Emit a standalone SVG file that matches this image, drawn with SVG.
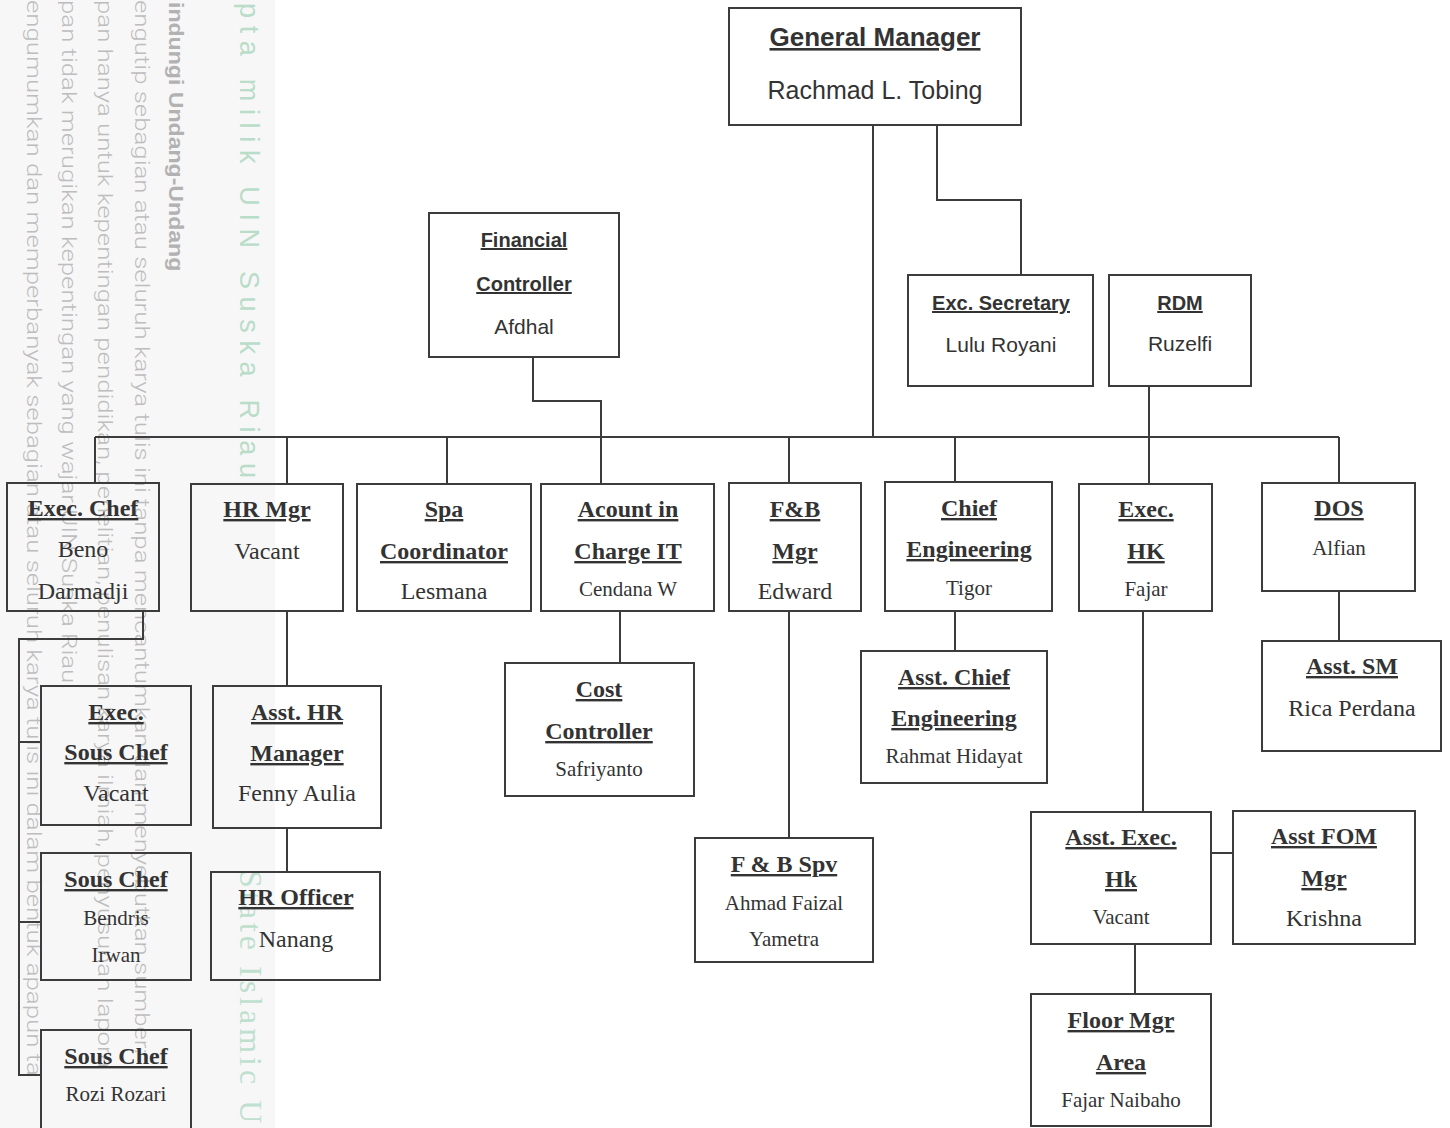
<svg xmlns="http://www.w3.org/2000/svg" width="1450" height="1128" viewBox="0 0 1450 1128">
<style>
.box{fill:none;stroke:#3c3c3c;stroke-width:2}
.ln{fill:none;stroke:#3c3c3c;stroke-width:2}
text{text-anchor:middle;fill:#333}
.st{font-family:"Liberation Serif",serif;font-weight:bold;font-size:24px;text-decoration:underline}
.sn{font-family:"Liberation Serif",serif;font-size:21px}
.sl{font-family:"Liberation Serif",serif;font-size:24px}
.ct{font-family:"Liberation Sans",sans-serif;font-weight:bold;font-size:20px;text-decoration:underline}
.cn{font-family:"Liberation Sans",sans-serif;font-size:21px}
.wm{font-family:"Roboto","Liberation Sans",sans-serif;font-weight:300;font-size:21px;fill:#bdbdbd;text-anchor:start}
.wmb{font-family:"Liberation Sans",sans-serif;font-weight:bold;fill:#b2b2b2}
.wg{font-family:"Liberation Sans",sans-serif;font-size:27px;fill:#b9ddc9;text-anchor:start}
.wgs{font-family:"Liberation Serif",serif;font-size:32px;fill:#bfe0ce;text-anchor:start;letter-spacing:4px}
</style>
<rect x="0" y="0" width="1450" height="1128" fill="#ffffff"/>
<g id="watermark">
<rect x="0" y="0" width="275" height="1128" fill="#f7f7f7"/>
<text class="wm wmb" transform="translate(169,2) rotate(90) scale(1.1,1)">indungi Undang-Undang</text>
<text class="wm" transform="translate(135,0) rotate(90) scale(1.23,1)">engutip sebagian atau seluruh karya tulis ini tanpa mencantumkan dan menyebutkan sumber:</text>
<text class="wm" transform="translate(98,0) rotate(90) scale(1.23,1)">pan hanya untuk kepentingan pendidikan, penelitian, penulisan karya ilmiah, penyusunan lapora</text>
<text class="wm" transform="translate(62,0) rotate(90) scale(1.23,1)">pan tidak merugikan kepentingan yang wajar UIN Suska Riau.</text>
<text class="wm" transform="translate(27,0) rotate(90) scale(1.23,1)">engumumkan dan memperbanyak sebagian atau seluruh karya tulis ini dalam bentuk apapun ta</text>
<text class="wg" transform="translate(240,3) rotate(90)" textLength="475" lengthAdjust="spacing">pta milik UIN Suska Riau</text>
<text class="wgs" transform="translate(240,870) rotate(90)">State Islamic Un</text>
</g>
<g id="connectors">
<path class="ln" d="M873,125 V437"/>
<path class="ln" d="M937,125 V200 H1021 V275"/>
<path class="ln" d="M533,357 V401 H601 V484"/>
<path class="ln" d="M95,437 H1339"/>
<path class="ln" d="M95,437 V483"/>
<path class="ln" d="M287,437 V484"/>
<path class="ln" d="M447,437 V484"/>
<path class="ln" d="M789,437 V483"/>
<path class="ln" d="M955,437 V482"/>
<path class="ln" d="M1149,386 V484"/>
<path class="ln" d="M1339,437 V483"/>
<path class="ln" d="M143,611 V639 H19 V1075 H41"/>
<path class="ln" d="M19,742 H41"/>
<path class="ln" d="M19,922 H41"/>
<path class="ln" d="M287,611 V686"/>
<path class="ln" d="M287,828 V872"/>
<path class="ln" d="M620,611 V663"/>
<path class="ln" d="M789,611 V838"/>
<path class="ln" d="M955,611 V651"/>
<path class="ln" d="M1143,611 V812"/>
<path class="ln" d="M1211,853 H1233"/>
<path class="ln" d="M1135,944 V994"/>
<path class="ln" d="M1339,591 V641"/>
</g>
<g id="gm">
<rect class="box" x="729" y="8" width="292" height="117"/>
<text x="875" y="46" style="font-family:'Liberation Sans',sans-serif;font-weight:bold;font-size:26px;text-decoration:underline">General Manager</text>
<text x="875" y="99" style="font-family:'Liberation Sans',sans-serif;font-size:25px">Rachmad L. Tobing</text>
</g>
<g id="financial-controller">
<rect class="box" x="429" y="213" width="190" height="144"/>
<text class="ct" x="524" y="247">Financial</text>
<text class="ct" x="524" y="291">Controller</text>
<text class="cn" x="524" y="334">Afdhal</text>
</g>
<g id="exc-secretary">
<rect class="box" x="908" y="275" width="185" height="111"/>
<text class="ct" x="1001" y="310">Exc. Secretary</text>
<text class="cn" x="1001" y="352">Lulu Royani</text>
</g>
<g id="rdm">
<rect class="box" x="1109" y="275" width="142" height="111"/>
<text class="ct" x="1180" y="310">RDM</text>
<text class="cn" x="1180" y="351">Ruzelfi</text>
</g>
<g id="exec-chef">
<rect class="box" x="7" y="483" width="152" height="128"/>
<text class="st" x="83" y="516">Exec. Chef</text>
<text class="sl" x="83" y="557">Beno</text>
<text class="sl" x="83" y="599">Darmadji</text>
</g>
<g id="hr-mgr">
<rect class="box" x="191" y="484" width="152" height="127"/>
<text class="st" x="267" y="517">HR Mgr</text>
<text class="sl" x="267" y="559">Vacant</text>
</g>
<g id="spa-coordinator">
<rect class="box" x="357" y="484" width="174" height="127"/>
<text class="st" x="444" y="517">Spa</text>
<text class="st" x="444" y="559">Coordinator</text>
<text class="sl" x="444" y="599">Lesmana</text>
</g>
<g id="acount-in-charge-it">
<rect class="box" x="541" y="484" width="173" height="127"/>
<text class="st" x="628" y="517">Acount in</text>
<text class="st" x="628" y="559">Charge IT</text>
<text class="sn" x="628" y="596">Cendana W</text>
</g>
<g id="fb-mgr">
<rect class="box" x="729" y="483" width="132" height="128"/>
<text class="st" x="795" y="517">F&amp;B</text>
<text class="st" x="795" y="559">Mgr</text>
<text class="sl" x="795" y="599">Edward</text>
</g>
<g id="chief-engineering">
<rect class="box" x="885" y="482" width="167" height="129"/>
<text class="st" x="969" y="516">Chief</text>
<text class="st" x="969" y="557">Engineering</text>
<text class="sn" x="969" y="595">Tigor</text>
</g>
<g id="exec-hk">
<rect class="box" x="1079" y="484" width="133" height="127"/>
<text class="st" x="1146" y="517">Exec.</text>
<text class="st" x="1146" y="559">HK</text>
<text class="sn" x="1146" y="596">Fajar</text>
</g>
<g id="dos">
<rect class="box" x="1262" y="483" width="153" height="108"/>
<text class="st" x="1339" y="516">DOS</text>
<text class="sn" x="1339" y="555">Alfian</text>
</g>
<g id="exec-sous-chef">
<rect class="box" x="41" y="686" width="150" height="139"/>
<text class="st" x="116" y="720">Exec.</text>
<text class="st" x="116" y="760">Sous Chef</text>
<text class="sl" x="116" y="801">Vacant</text>
</g>
<g id="asst-hr-manager">
<rect class="box" x="213" y="686" width="168" height="142"/>
<text class="st" x="297" y="720">Asst. HR</text>
<text class="st" x="297" y="761">Manager</text>
<text class="sl" x="297" y="801">Fenny Aulia</text>
</g>
<g id="sous-chef-bendris">
<rect class="box" x="41" y="853" width="150" height="127"/>
<text class="st" x="116" y="887">Sous Chef</text>
<text class="sn" x="116" y="925">Bendris</text>
<text class="sn" x="116" y="962">Irwan</text>
</g>
<g id="sous-chef-rozi">
<rect class="box" x="41" y="1030" width="150" height="110"/>
<text class="st" x="116" y="1064">Sous Chef</text>
<text class="sn" x="116" y="1101">Rozi Rozari</text>
</g>
<g id="hr-officer">
<rect class="box" x="211" y="872" width="169" height="108"/>
<text class="st" x="296" y="905">HR Officer</text>
<text class="sl" x="296" y="947">Nanang</text>
</g>
<g id="cost-controller">
<rect class="box" x="505" y="663" width="189" height="133"/>
<text class="st" x="599" y="697">Cost</text>
<text class="st" x="599" y="739">Controller</text>
<text class="sn" x="599" y="776">Safriyanto</text>
</g>
<g id="asst-chief-engineering">
<rect class="box" x="861" y="651" width="186" height="132"/>
<text class="st" x="954" y="685">Asst. Chief</text>
<text class="st" x="954" y="726">Engineering</text>
<text class="sn" x="954" y="763">Rahmat Hidayat</text>
</g>
<g id="fb-spv">
<rect class="box" x="695" y="838" width="178" height="124"/>
<text class="st" x="784" y="872">F &amp; B Spv</text>
<text class="sn" x="784" y="910">Ahmad Faizal</text>
<text class="sn" x="784" y="946">Yametra</text>
</g>
<g id="asst-exec-hk">
<rect class="box" x="1031" y="812" width="180" height="132"/>
<text class="st" x="1121" y="845">Asst. Exec.</text>
<text class="st" x="1121" y="887">Hk</text>
<text class="sn" x="1121" y="924">Vacant</text>
</g>
<g id="asst-fom-mgr">
<rect class="box" x="1233" y="811" width="182" height="133"/>
<text class="st" x="1324" y="844">Asst FOM</text>
<text class="st" x="1324" y="886">Mgr</text>
<text class="sl" x="1324" y="926">Krishna</text>
</g>
<g id="floor-mgr-area">
<rect class="box" x="1031" y="994" width="180" height="132"/>
<text class="st" x="1121" y="1028">Floor Mgr</text>
<text class="st" x="1121" y="1070">Area</text>
<text class="sn" x="1121" y="1107">Fajar Naibaho</text>
</g>
<g id="asst-sm">
<rect class="box" x="1262" y="641" width="179" height="110"/>
<text class="st" x="1352" y="674">Asst. SM</text>
<text class="sl" x="1352" y="716">Rica Perdana</text>
</g>
</svg>
